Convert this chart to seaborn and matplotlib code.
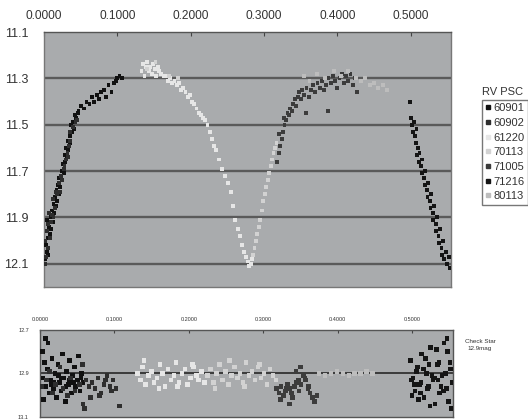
import numpy as np
import pandas as pd
import seaborn as sns
import matplotlib.pyplot as plt
from matplotlib.lines import Line2D

# observing nights (legend "RV PSC")
nights = ["60901", "60902", "61220", "70113", "71005", "71216", "80113"]
night_colors = {"60901": "#111111", "60902": "#2e2e2e", "61220": "#e6e6e6",
                "70113": "#d2d2d2", "71005": "#3c3c3c", "71216": "#151515",
                "80113": "#bdbdbd"}

# ---- RV Psc light curve (phase, magnitude) ----
ph_60901 = [0.002, 0.004, 0.003, 0.006, 0.005, 0.008, 0.007, 0.004, 0.010, 0.009, 0.012, 0.011,
            0.014, 0.013, 0.016, 0.015, 0.018, 0.017, 0.020, 0.019, 0.022, 0.021, 0.024, 0.025,
            0.027, 0.026, 0.029, 0.028, 0.031, 0.030, 0.033, 0.032, 0.035, 0.036, 0.038, 0.037,
            0.040, 0.042, 0.041, 0.044, 0.047, 0.050, 0.046, 0.055, 0.058, 0.062, 0.065, 0.068,
            0.072, 0.075, 0.078, 0.082, 0.085, 0.088, 0.092, 0.095, 0.098, 0.100, 0.103, 0.106]
mag_60901 = [12.08, 12.05, 12.02, 12.06, 11.99, 11.97, 11.94, 11.91, 11.95, 11.90, 11.92, 11.87,
             11.88, 11.84, 11.85, 11.81, 11.83, 11.78, 11.80, 11.76, 11.77, 11.73, 11.74, 11.70,
             11.71, 11.67, 11.66, 11.63, 11.64, 11.60, 11.61, 11.57, 11.58, 11.55, 11.53, 11.50,
             11.49, 11.46, 11.52, 11.47, 11.44, 11.42, 11.45, 11.43, 11.40, 11.41, 11.38, 11.40,
             11.37, 11.39, 11.36, 11.35, 11.38, 11.33, 11.36, 11.32, 11.31, 11.30, 11.29, 11.30]

ph_60902 = [0.001, 0.003, 0.002, 0.005, 0.004, 0.006, 0.008, 0.009, 0.007, 0.011, 0.013, 0.012,
            0.015, 0.016, 0.018, 0.020, 0.022, 0.023, 0.025, 0.027, 0.028, 0.030, 0.032, 0.034,
            0.033, 0.036, 0.035, 0.039, 0.043, 0.045]
mag_60902 = [12.10, 12.07, 12.00, 12.03, 11.96, 11.93, 11.99, 11.92, 11.88, 11.89, 11.90, 11.82,
             11.86, 11.79, 11.80, 11.75, 11.79, 11.72, 11.74, 11.69, 11.68, 11.65, 11.62, 11.59,
             11.64, 11.57, 11.53, 11.51, 11.49, 11.48]

ph_61220 = [0.133, 0.135, 0.137, 0.139, 0.141, 0.143, 0.145, 0.147, 0.149, 0.151, 0.153, 0.155,
            0.157, 0.160, 0.163, 0.166, 0.169, 0.172, 0.175, 0.178, 0.181, 0.184, 0.187, 0.190,
            0.193, 0.196, 0.199, 0.202, 0.205, 0.208, 0.211, 0.214, 0.217, 0.220, 0.223, 0.226,
            0.229, 0.232, 0.235, 0.239, 0.243, 0.247, 0.251, 0.255, 0.258, 0.261, 0.264, 0.267,
            0.270, 0.273, 0.276, 0.278, 0.280, 0.282, 0.284]
mag_61220 = [11.27, 11.24, 11.29, 11.25, 11.23, 11.27, 11.25, 11.28, 11.24, 11.26, 11.29, 11.25,
             11.27, 11.28, 11.29, 11.29, 11.31, 11.30, 11.32, 11.31, 11.33, 11.32, 11.35, 11.34,
             11.36, 11.38, 11.37, 11.40, 11.41, 11.43, 11.45, 11.46, 11.47, 11.48, 11.50, 11.53,
             11.56, 11.59, 11.61, 11.65, 11.69, 11.72, 11.75, 11.79, 11.85, 11.91, 11.95, 11.98,
             12.02, 12.05, 12.07, 12.09, 12.11, 12.10, 12.08]

ph_70113 = [0.285, 0.287, 0.289, 0.291, 0.293, 0.295, 0.297, 0.299, 0.301, 0.303, 0.305, 0.307,
            0.309, 0.311, 0.313, 0.315, 0.317, 0.140, 0.152, 0.170, 0.183]
mag_70113 = [12.06, 12.03, 12.00, 11.97, 11.94, 11.91, 11.87, 11.83, 11.80, 11.77, 11.74, 11.71,
             11.68, 11.65, 11.62, 11.60, 11.58, 11.26, 11.23, 11.29, 11.30]

ph_71005 = [0.318, 0.320, 0.322, 0.324, 0.321, 0.326, 0.328, 0.327, 0.330, 0.332, 0.334, 0.336,
            0.338, 0.340, 0.342, 0.344, 0.346, 0.348, 0.350, 0.352, 0.355, 0.358, 0.361, 0.364,
            0.367, 0.370, 0.373, 0.376, 0.379, 0.382, 0.385, 0.388, 0.391, 0.394, 0.397, 0.400,
            0.403, 0.406, 0.409, 0.412, 0.415, 0.418, 0.421, 0.424, 0.427, 0.357, 0.387]
mag_71005 = [11.66, 11.62, 11.59, 11.56, 11.54, 11.53, 11.50, 11.47, 11.48, 11.45, 11.46, 11.43,
             11.44, 11.41, 11.39, 11.42, 11.38, 11.36, 11.39, 11.35, 11.37, 11.34, 11.38, 11.35,
             11.33, 11.36, 11.32, 11.34, 11.31, 11.35, 11.33, 11.30, 11.32, 11.29, 11.31, 11.34,
             11.30, 11.28, 11.32, 11.29, 11.31, 11.28, 11.33, 11.30, 11.36, 11.45, 11.44]

ph_71216 = [0.499, 0.500, 0.502, 0.504, 0.503, 0.506, 0.508, 0.507, 0.510, 0.509, 0.512, 0.511,
            0.514, 0.516, 0.515, 0.518, 0.520, 0.519, 0.522, 0.524, 0.523, 0.526, 0.528, 0.527,
            0.530, 0.532, 0.531, 0.534, 0.536, 0.535, 0.538, 0.540, 0.539, 0.542, 0.544, 0.543,
            0.546, 0.548, 0.550, 0.552, 0.553]
mag_71216 = [11.40, 11.47, 11.50, 11.49, 11.53, 11.55, 11.52, 11.58, 11.60, 11.63, 11.62, 11.66,
             11.68, 11.65, 11.71, 11.73, 11.70, 11.76, 11.78, 11.75, 11.81, 11.83, 11.80, 11.86,
             11.88, 11.85, 11.91, 11.93, 11.90, 11.96, 11.98, 11.95, 12.01, 12.03, 12.00, 12.06,
             12.08, 12.05, 12.10, 12.07, 12.12]

ph_80113 = [0.355, 0.362, 0.372, 0.383, 0.395, 0.405, 0.415, 0.425, 0.432, 0.438, 0.444, 0.450,
            0.456, 0.462, 0.468]
mag_80113 = [11.29, 11.31, 11.28, 11.30, 11.27, 11.29, 11.27, 11.30, 11.31, 11.30, 11.33, 11.32,
             11.34, 11.33, 11.35]

# ---- check star (phase, magnitude) ----
cph_60901 = [0.003, 0.006, 0.004, 0.008, 0.010, 0.012, 0.005, 0.014, 0.016, 0.018, 0.020, 0.022,
             0.024, 0.026, 0.028, 0.030, 0.032, 0.034, 0.036, 0.038, 0.040, 0.042, 0.044, 0.046,
             0.048, 0.050, 0.052, 0.054, 0.056, 0.058, 0.011, 0.007, 0.015, 0.025, 0.035, 0.045,
             0.055, 0.019, 0.029, 0.039]
cmag_60901 = [12.80, 12.85, 12.92, 12.96, 12.88, 12.99, 13.02, 12.93, 12.83, 12.97, 12.90, 13.01,
              12.86, 12.94, 12.98, 12.81, 12.92, 13.03, 12.89, 12.95, 12.84, 12.99, 12.91, 12.87,
              12.96, 12.93, 12.82, 12.98, 12.90, 12.94, 12.76, 12.74, 12.95, 12.91, 12.96, 12.94,
              12.92, 12.94, 12.92, 12.93]

cph_60902 = [0.002, 0.009, 0.013, 0.017, 0.021, 0.027, 0.031, 0.037, 0.041, 0.047, 0.053, 0.057,
             0.062, 0.066, 0.070, 0.074, 0.078, 0.082, 0.086, 0.090, 0.094, 0.098, 0.102, 0.068,
             0.080, 0.058, 0.060, 0.107, 0.088, 0.096]
cmag_60902 = [12.96, 12.93, 12.89, 12.99, 12.95, 12.87, 12.97, 13.00, 12.92, 12.98, 12.95, 12.86,
              12.93, 12.96, 12.94, 12.97, 12.92, 12.99, 12.95, 12.91, 12.96, 12.93, 12.97, 13.01,
              13.00, 13.04, 13.06, 13.05, 12.93, 12.98]

cph_61220 = [0.131, 0.135, 0.138, 0.142, 0.146, 0.150, 0.153, 0.157, 0.161, 0.165, 0.168, 0.172,
             0.176, 0.180, 0.183, 0.187, 0.191, 0.195, 0.198, 0.202, 0.206, 0.210, 0.213, 0.217,
             0.221, 0.140, 0.160, 0.185, 0.205]
cmag_61220 = [12.90, 12.93, 12.87, 12.95, 12.91, 12.89, 12.94, 12.92, 12.86, 12.90, 12.96, 12.88,
              12.93, 12.91, 12.85, 12.94, 12.90, 12.88, 12.95, 12.92, 12.87, 12.91, 12.93, 12.89,
              12.94, 12.84, 12.97, 12.96, 12.86]

cph_70113 = [0.225, 0.229, 0.233, 0.237, 0.241, 0.245, 0.249, 0.253, 0.257, 0.261, 0.265, 0.269,
             0.273, 0.277, 0.281, 0.285, 0.289, 0.293, 0.297, 0.301, 0.305, 0.309, 0.313, 0.317,
             0.235, 0.255, 0.275, 0.295]
cmag_70113 = [12.91, 12.88, 12.94, 12.90, 12.86, 12.93, 12.89, 12.95, 12.91, 12.87, 12.92, 12.90,
              12.94, 12.85, 12.91, 12.89, 12.93, 12.87, 12.92, 12.90, 12.95, 12.88, 12.91, 12.93,
              12.97, 12.84, 12.96, 12.86]

cph_71005 = [0.318, 0.321, 0.324, 0.327, 0.330, 0.333, 0.336, 0.339, 0.342, 0.345, 0.348, 0.351,
             0.354, 0.357, 0.360, 0.363, 0.366, 0.369, 0.323, 0.331, 0.338, 0.344, 0.350, 0.356,
             0.361, 0.335, 0.347, 0.372, 0.329]
cmag_71005 = [12.97, 12.99, 12.96, 13.00, 12.98, 12.95, 12.97, 13.01, 12.96, 12.94, 12.98, 12.95,
              12.91, 12.93, 12.97, 12.99, 13.01, 13.03, 13.02, 12.97, 12.99, 12.89, 12.87, 12.92,
              12.96, 13.04, 12.93, 13.00, 12.98]

cph_71216 = [0.498, 0.501, 0.504, 0.507, 0.510, 0.513, 0.516, 0.519, 0.522, 0.525, 0.528, 0.531,
             0.534, 0.537, 0.540, 0.543, 0.546, 0.549, 0.552, 0.554, 0.500, 0.506, 0.512, 0.518,
             0.524, 0.530, 0.536, 0.542, 0.548, 0.553, 0.503, 0.509, 0.515, 0.521, 0.527, 0.533,
             0.539, 0.545, 0.551, 0.499, 0.511, 0.523, 0.535, 0.547]
cmag_71216 = [12.84, 12.92, 12.98, 12.87, 12.95, 12.81, 13.01, 12.90, 12.96, 12.78, 12.93, 13.04,
              12.86, 12.99, 12.91, 12.76, 12.97, 13.03, 12.88, 12.94, 13.00, 12.89, 12.94, 12.83,
              13.05, 12.92, 12.85, 12.98, 12.80, 13.06, 12.95, 13.02, 12.88, 12.97, 12.91, 12.79,
              12.96, 12.90, 12.85, 12.93, 12.99, 12.86, 12.93, 12.74]

cph_80113 = [0.375, 0.383, 0.391, 0.399, 0.407, 0.415, 0.423, 0.431, 0.439, 0.447]
cmag_80113 = [12.90, 12.91, 12.90, 12.89, 12.90, 12.91, 12.90, 12.90, 12.89, 12.90]

x_ticks = [0.0, 0.1, 0.2, 0.3, 0.4, 0.5]
top_yticks = [11.1, 11.3, 11.5, 11.7, 11.9, 12.1]
check_yticks = [12.7, 12.9, 13.1]


def frame(pairs):
    parts = [pd.DataFrame({"phase": p, "mag": m, "night": n}) for n, (p, m) in pairs.items()]
    return pd.concat(parts, ignore_index=True)


top = frame({"60901": (ph_60901, mag_60901), "60902": (ph_60902, mag_60902),
             "61220": (ph_61220, mag_61220), "70113": (ph_70113, mag_70113),
             "71005": (ph_71005, mag_71005), "71216": (ph_71216, mag_71216),
             "80113": (ph_80113, mag_80113)})
check = frame({"60901": (cph_60901, cmag_60901), "60902": (cph_60902, cmag_60902),
               "61220": (cph_61220, cmag_61220), "70113": (cph_70113, cmag_70113),
               "71005": (cph_71005, cmag_71005), "71216": (cph_71216, cmag_71216),
               "80113": (cph_80113, cmag_80113)})

plt.rcParams['font.family'] = ['Liberation Sans', 'DejaVu Sans']

fig = plt.figure(figsize=(5.28, 4.19), dpi=100)
ax1 = fig.add_axes([44 / 528, 1 - 287 / 419, 407 / 528, 255 / 419])
ax2 = fig.add_axes([40 / 528, 1 - 417 / 419, 413 / 528, 87 / 419])

bg = "#a9abad"
grid_c = "#5a5a5a"

# main light curve
sns.scatterplot(data=top, x="phase", y="mag", hue="night", hue_order=nights, palette=night_colors,
                marker="s", s=8, linewidth=0, legend=False, ax=ax1, zorder=3)
ax1.set_xlim(0, 0.555)
ax1.set_ylim(12.2, 11.1)
ax1.set_facecolor(bg)
for y in top_yticks[1:]:
    ax1.axhline(y, color=grid_c, lw=1.7, zorder=1)
ax1.xaxis.tick_top()
ax1.set_xticks(x_ticks)
ax1.set_xticklabels([f"{t:.4f}" for t in x_ticks])
ax1.set_yticks(top_yticks)
ax1.set_yticklabels([f"{t:.1f}" for t in top_yticks])
ax1.tick_params(axis="x", direction="in", length=3, color="#444444", labelsize=8.6,
                labelcolor="#333333", pad=7)
ax1.tick_params(axis="y", length=0, labelsize=9, labelcolor="#333333", pad=11)
ax1.set_xlabel("")
ax1.set_ylabel("")
for sp in ax1.spines.values():
    sp.set_color("#777777")
    sp.set_linewidth(1)
ax1.spines["top"].set_color("#555555")

# check star
sns.scatterplot(data=check, x="phase", y="mag", hue="night", hue_order=nights, palette=night_colors,
                marker="s", s=11, linewidth=0, legend=False, ax=ax2, zorder=3)
ax2.set_xlim(0, 0.555)
ax2.set_ylim(13.1, 12.7)
ax2.set_facecolor(bg)
ax2.axhline(12.9, color="#3a3a3a", lw=1.4, zorder=1)
ax2.xaxis.tick_top()
ax2.set_xticks(x_ticks)
ax2.set_xticklabels([f"{t:.4f}" for t in x_ticks])
ax2.set_yticks(check_yticks)
ax2.set_yticklabels([f"{t:.1f}" for t in check_yticks])
ax2.tick_params(axis="x", direction="in", length=2, color="#444444", labelsize=4,
                labelcolor="#333333", pad=6)
ax2.tick_params(axis="y", length=0, labelsize=4, labelcolor="#333333", pad=8)
ax2.set_xlabel("")
ax2.set_ylabel("")
for sp in ax2.spines.values():
    sp.set_color("#555555")
    sp.set_linewidth(1)

# legend for the nights
handles = [Line2D([], [], marker="s", ls="", ms=2.2, color=night_colors[n]) for n in nights]
leg = fig.legend(handles, nights, loc="upper left", bbox_to_anchor=(482 / 528, 1 - 100 / 419),
                 bbox_transform=fig.transFigure, fontsize=8, frameon=True, fancybox=False,
                 handlelength=0.5, handletextpad=0.2, labelspacing=0.42, borderpad=0.3,
                 borderaxespad=0)
leg.get_frame().set_edgecolor("#555555")
leg.get_frame().set_linewidth(1)
for t in leg.get_texts():
    t.set_color("#333333")
fig.text(503 / 528, 1 - 92 / 419, "RV PSC", fontsize=8, color="#333333", ha="center", va="center")
fig.text(480 / 528, 1 - 345 / 419, "Check Star\n12.9mag", fontsize=4.5, color="#333333",
         ha="center", va="center", linespacing=1.3)

fig.savefig("out.png", dpi=100)
